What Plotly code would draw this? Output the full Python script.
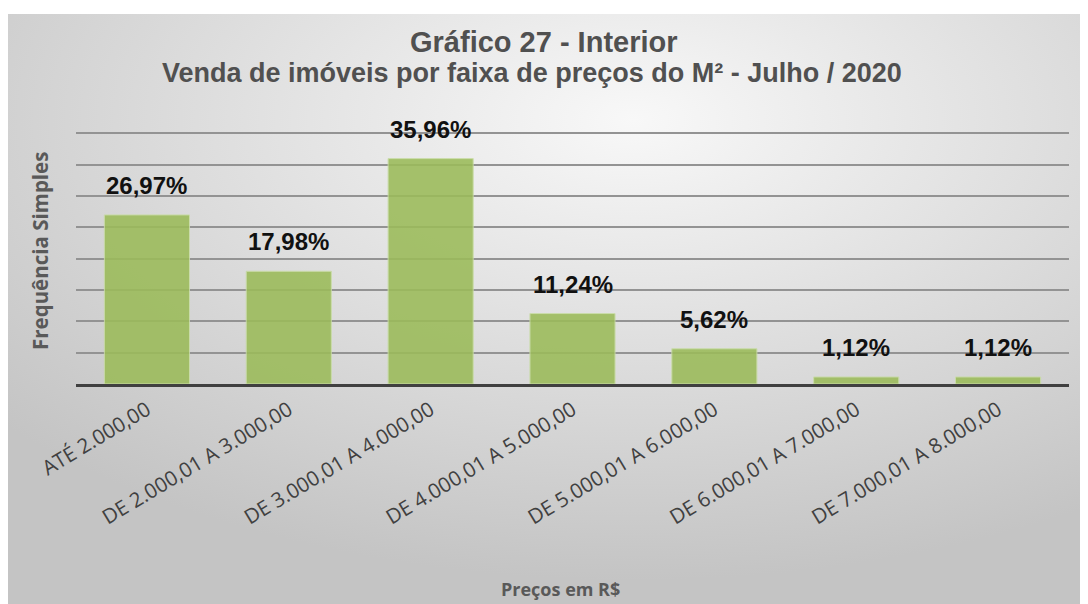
import base64
import plotly.graph_objects as go

# Dados
faixas = ['ATÉ 2.000,00', 'DE 2.000,01 A 3.000,00', 'DE 3.000,01 A 4.000,00',
          'DE 4.000,01 A 5.000,00', 'DE 5.000,01 A 6.000,00', 'DE 6.000,01 A 7.000,00',
          'DE 7.000,01 A 8.000,00']
percentuais = [26.97, 17.98, 35.96, 11.24, 5.62, 1.12, 1.12]
rotulos = ['26,97%', '17,98%', '35,96%', '11,24%', '5,62%', '1,12%', '1,12%']

# a página tem 8px de margem no body: tudo abaixo em coordenadas da figura
W, H = 1080, 596
ML, MR, MT, MB = 68, 19, 124, 220
PW, PH = W - ML - MR, H - MT - MB

GREEN = '#9bbb59'
DARK = '#404040'
GRID = '#939393'


def px(x):
    return (x - ML) / PW


def py(y):
    return (H - MB - y) / PH


# fundo em gradiente radial (estilo Excel)
svg = ('<svg xmlns="http://www.w3.org/2000/svg" width="1078" height="590">'
       '<defs><radialGradient id="g" cx="0.58" cy="0.18" r="0.78">'
       '<stop offset="0" stop-color="#f8f8f8"/><stop offset="1" stop-color="#c4c4c4"/>'
       '</radialGradient></defs><rect width="1078" height="590" fill="url(#g)"/></svg>')
bg_src = 'data:image/svg+xml;base64,' + base64.b64encode(svg.encode()).decode()

fig = go.Figure(go.Bar(
    x=faixas, y=percentuais, width=0.6,
    marker=dict(color=GREEN, opacity=0.88, line=dict(color='#c8dca4', width=1)),
    hoverinfo='skip'
))

for f, v, r in zip(faixas, percentuais, rotulos):
    fig.add_annotation(x=f, y=v, text=f'<b>{r}</b>', showarrow=False,
                       xanchor='center', yanchor='bottom', yshift=14,
                       font=dict(family='Liberation Sans, Arial', size=24, color='#111111'))


def texto(x, y, t, size, family, angle=0, color='#505050'):
    fig.add_annotation(xref='paper', yref='paper', x=px(x), y=py(y), text=t,
                       showarrow=False, xanchor='center', yanchor='middle', textangle=angle,
                       font=dict(family=family, size=size, color=color))


texto(536, 34, '<b>Gráfico 27 - Interior</b>', 29, 'Liberation Sans, Arial')
texto(524, 65, '<b>Venda de imóveis por faixa de preços do M² - Julho / 2020</b>', 27,
      'Liberation Sans, Arial')
texto(32, 243, '<b>Frequência Simples</b>', 20.5, 'Open Sans', angle=-90, color='#595959')
texto(552, 581, '<b>Preços em R$</b>', 18, 'Open Sans', color='#595959')

fig.add_layout_image(dict(source=bg_src, xref='paper', yref='paper',
                          x=px(0), y=py(6), sizex=1078 / PW, sizey=590 / PH,
                          xanchor='left', yanchor='top', sizing='stretch', layer='below'))

fig.update_layout(
    width=W, height=H, paper_bgcolor='white', plot_bgcolor='rgba(0,0,0,0)',
    margin=dict(l=ML, r=MR, t=MT, b=MB), showlegend=False,
    xaxis=dict(tickangle=-31, tickfont=dict(family='Open Sans', size=20.5, color=DARK),
               ticklabelstandoff=3,
               showline=True, linecolor=DARK, linewidth=3, ticks='', showgrid=False),
    yaxis=dict(range=[0, 40.2], tickvals=[5, 10, 15, 20, 25, 30, 35, 40],
               showticklabels=False, showgrid=True,
               gridcolor=GRID, gridwidth=1.6, zeroline=False, ticks=''),
)

fig.write_html('out.html')
